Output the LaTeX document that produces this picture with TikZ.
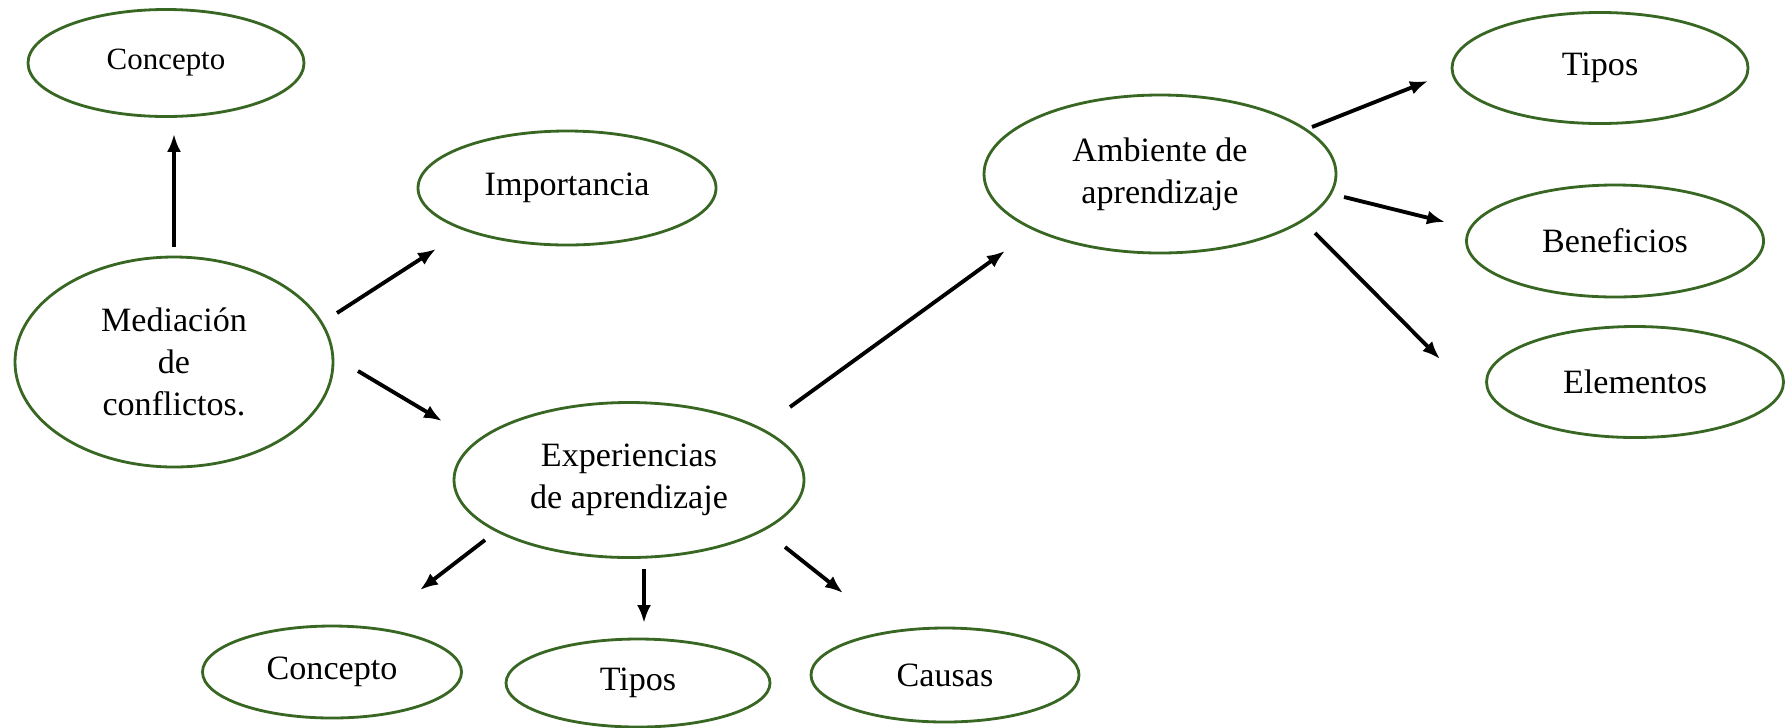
\documentclass[tikz,border=0pt]{standalone}
\usepackage{fontspec}
\setmainfont{Liberation Serif}
\usetikzlibrary{shapes.geometric, arrows.meta, calc}
\definecolor{bordegreen}{RGB}{56,102,35}

\begin{document}
\begin{tikzpicture}[line width=0.8pt,
		bubble/.style={ellipse, draw=bordegreen, inner sep=0pt, align=center, font=\fontsize{9.7}{12}\selectfont},
		arr/.style={-{Latex[length=0.18cm,width=0.14cm]}, line width=1.1pt}]
			\useasboundingbox (0,0) rectangle (17.91,-7.27);
			% centro
			\node[bubble, minimum width=3.18cm, minimum height=2.10cm] at (1.74,-3.62) (med){Mediación\\de\\conflictos.};
			\node[bubble, minimum width=2.76cm, minimum height=1.07cm, font=\fontsize{8.8}{11}\selectfont] at (1.66,-0.63) (con1){Concepto};
			\node[bubble, minimum width=2.98cm, minimum height=1.14cm] at (5.67,-1.88) (imp){Importancia};
			\node[bubble, minimum width=3.50cm, minimum height=1.55cm] at (6.29,-4.80) (exp){Experiencias\\de aprendizaje};
			\node[bubble, minimum width=3.52cm, minimum height=1.58cm] at (11.60,-1.74) (amb){Ambiente de\\aprendizaje};
			% derecha
			\node[bubble, minimum width=2.96cm, minimum height=1.11cm] at (16.00,-0.68) (tip1){Tipos};
			\node[bubble, minimum width=2.97cm, minimum height=1.12cm] at (16.15,-2.41) (ben){Beneficios};
			\node[bubble, minimum width=2.97cm, minimum height=1.11cm] at (16.35,-3.82) (ele){Elementos};
			% abajo
			\node[bubble, minimum width=2.59cm, minimum height=0.92cm] at (3.32,-6.72) (con2){Concepto};
			\node[bubble, minimum width=2.64cm, minimum height=0.88cm] at (6.38,-6.83) (tip2){Tipos};
			\node[bubble, minimum width=2.68cm, minimum height=0.94cm] at (9.45,-6.75) (cau){Causas};
			% flechas
			\draw[arr, shorten <=0.09cm, shorten >=0.16cm] (med.north) -- (med.north |- con1.south);
			\draw[arr] ($(med)+(1.63,0.49)$) -- ($(imp)+(-1.31,-0.61)$);
			\draw[arr] ($(med)+(1.84,-0.09)$) -- ($(exp)+(-1.87,0.59)$);
			\draw[arr] ($(exp)+(1.61,0.73)$) -- ($(amb)+(-1.55,-0.77)$);
			\draw[arr] ($(amb)+(1.52,0.47)$) -- ($(tip1)+(-1.72,-0.13)$);
			\draw[arr] ($(amb)+(1.84,-0.23)$) -- ($(ben)+(-1.70,0.19)$);
			\draw[arr] ($(amb)+(1.55,-0.59)$) -- ($(ele)+(-1.95,0.23)$);
			\draw[arr] ($(exp)+(-1.44,-0.60)$) -- ($(con2)+(0.88,0.82)$);
			\draw[arr] ($(exp)+(0.15,-0.89)$) -- ($(tip2)+(0.06,0.60)$);
			\draw[arr] ($(exp)+(1.56,-0.67)$) -- ($(cau)+(-1.02,0.82)$);
		\end{tikzpicture}
\end{document}
